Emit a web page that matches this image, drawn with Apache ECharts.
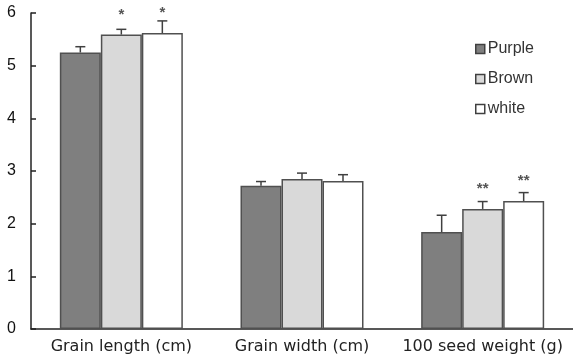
<!DOCTYPE html>
<html>
<head>
<meta charset="utf-8">
<title></title>
</head>
<body style="margin:0">
<div id="container" style="width:573px;height:357px;"></div>
<script src="https://cdn.jsdelivr.net/npm/echarts@6/dist/echarts.min.js"></script>
<script>
'use strict'

var categories = ['Grain length (cm)', 'Grain width (cm)', '100 seed weight (g)'];
var purple = [5.25, 2.72, 1.84];
var purpleErr = [0.11, 0.08, 0.32];
var purpleSig = ['', '', ''];
var brown = [5.59, 2.85, 2.28];
var brownErr = [0.10, 0.11, 0.14];
var brownSig = ['*', '', '**'];
var white = [5.62, 2.81, 2.43];
var whiteErr = [0.23, 0.12, 0.16];
var whiteSig = ['*', '', '**'];
var yTicks = [0, 1, 2, 3, 4, 5, 6];

var barW = 41;

function errSeries(vals, errs, sigs, offset) {
  var d = [];
  for (var i = 0; i < vals.length; i++) d.push([i, vals[i], errs[i], sigs[i]]);
  return {
    type: 'custom',
    z: 10,
    silent: true,
    encode: { x: 0, y: 1 },
    data: d,
    renderItem: function (params, api) {
      var top = api.coord([api.value(0), api.value(1) + api.value(2)]);
      var base = api.coord([api.value(0), api.value(1)]);
      var x = base[0] + offset;
      var c = { stroke: '#404040', lineWidth: 1.5 };
      var kids = [
        { type: 'line', shape: { x1: x, y1: base[1], x2: x, y2: top[1] }, style: c },
        { type: 'line', shape: { x1: x - 5, y1: top[1], x2: x + 5, y2: top[1] }, style: c }
      ];
      var s = d[params.dataIndex][3];
      if (s) {
        kids.push({ type: 'text', style: { text: s, x: x, y: base[1] - 20, align: 'center', verticalAlign: 'middle', fill: '#555', font: 'bold 15px "Liberation Sans"' } });
      }
      return { type: 'group', children: kids };
    }
  };
}

function barSeries(name, vals, fill) {
  return {
    name: name,
    type: 'bar',
    barWidth: barW,
    barGap: '0%',
    data: vals,
    itemStyle: { color: fill, borderColor: '#505050', borderWidth: 1.5 }
  };
}

var myCharts = echarts.init(document.getElementById('container'));
var option = {
  animation: false,
  textStyle: { fontFamily: 'Liberation Sans' },
  grid: { left: 31, right: 0, top: 13, bottom: 28 },
  legend: {
    orient: 'vertical',
    left: 470,
    top: 36,
    itemGap: 14,
    itemWidth: 9,
    itemHeight: 9,
    icon: 'rect',
    itemStyle: { borderColor: '#404040', borderWidth: 1.5 },
    textStyle: { fontSize: 16, color: '#333', padding: [0, 0, 0, -2] },
    data: ['Purple', 'Brown', 'white']
  },
  xAxis: {
    type: 'category',
    data: categories,
    axisLine: { lineStyle: { color: '#222', width: 1.5 } },
    axisTick: { inside: true, length: 5, lineStyle: { color: '#222', width: 1.5 } },
    axisLabel: { interval: 0, fontSize: 16, fontFamily: 'DejaVu Sans', color: '#222', margin: 10 }
  },
  yAxis: {
    type: 'value',
    min: yTicks[0],
    max: yTicks[yTicks.length - 1],
    interval: 1,
    splitLine: { show: false },
    axisLine: { show: true, lineStyle: { color: '#222', width: 1.5 } },
    axisTick: { show: true, inside: true, length: 5, lineStyle: { color: '#222', width: 1.5 } },
    axisLabel: { fontSize: 16, color: '#111', margin: 15 }
  },
  series: [
    barSeries('Purple', purple, '#7f7f7f'),
    barSeries('Brown', brown, '#d9d9d9'),
    barSeries('white', white, '#ffffff'),
    errSeries(purple, purpleErr, purpleSig, -barW),
    errSeries(brown, brownErr, brownSig, 0),
    errSeries(white, whiteErr, whiteSig, barW)
  ]
};
myCharts.setOption(option);
</script>
</body>
</html>
